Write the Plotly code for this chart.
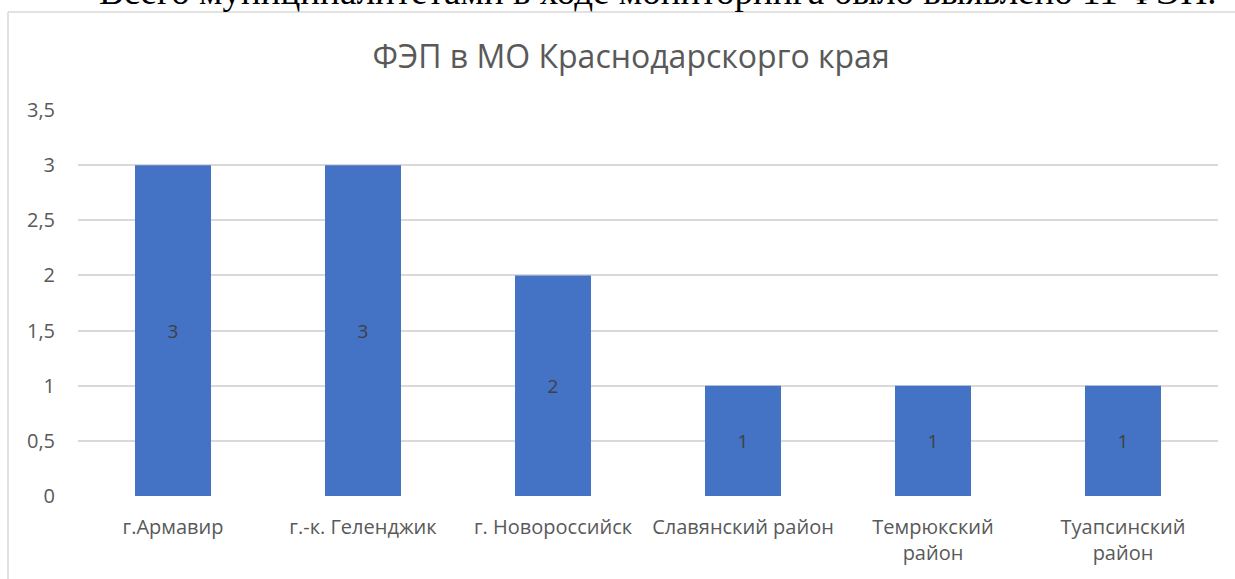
import plotly.graph_objects as go

categories = [
    "г.Армавир",
    "г.-к. Геленджик",
    "г. Новороссийск",
    "Славянский район",
    "Темрюкский<br>район",
    "Туапсинский<br>район",
]
values = [3, 3, 2, 1, 1, 1]
y_ticks = [0, 0.5, 1, 1.5, 2, 2.5, 3, 3.5]
y_tick_labels = ["0", "0,5", "1", "1,5", "2", "2,5", "3", "3,5"]

TITLE = "ФЭП в МО Краснодарскорго края"
PAGE_TEXT = "Всего муниципалитетами в ходе мониторинга было выявлено 11 ФЭП."

BAR_BLUE = "#4472C4"
TEXT_GRAY = "#595959"
GRID = "#d9d9d9"
FONT = "Open Sans"

fig = go.Figure(
    go.Bar(
        x=categories, y=values,
        marker=dict(color=BAR_BLUE, line=dict(width=0)),
        text=[str(v) for v in values],
        textposition="inside", insidetextanchor="middle",
        textfont=dict(family=FONT, size=19, color="#404040"),
        width=0.4, showlegend=False,
    )
)

# chart frame (top + left edge, the rest falls outside the page)
fig.add_shape(
    type="line", xref="paper", yref="paper",
    x0=-0.0614, x1=1.1, y0=1.2539, y1=1.2539,
    line=dict(color=GRID, width=1.5),
)
fig.add_shape(
    type="line", xref="paper", yref="paper",
    x0=-0.0614, x1=-0.0614, y0=-0.3, y1=1.2539,
    line=dict(color=GRID, width=1.5),
)

# document text above the chart, cut off by the page edge
fig.add_annotation(
    text=PAGE_TEXT, xref="paper", yref="paper",
    x=0.509, y=1.249, xanchor="center", yanchor="bottom",
    showarrow=False,
    font=dict(family="Liberation Serif", size=37, color="#000000"),
)

fig.update_layout(
    width=1235, height=579,
    margin=dict(l=78, r=17, t=110, b=83),
    title=dict(
        text=TITLE, x=0.511, xanchor="center", y=0.9016, yanchor="middle",
        font=dict(family=FONT, size=32, color=TEXT_GRAY),
    ),
    paper_bgcolor="white", plot_bgcolor="white",
    bargap=0.6,
    font=dict(family=FONT, color=TEXT_GRAY),
)
fig.update_xaxes(
    showgrid=False, zeroline=False, showline=False, ticks="",
    ticklabelstandoff=17,
    tickfont=dict(family=FONT, size=20, color=TEXT_GRAY),
)
fig.update_yaxes(
    range=[0, 3.5], tickvals=y_ticks, ticktext=y_tick_labels,
    showgrid=True, gridcolor=GRID, gridwidth=1.5, zeroline=False,
    ticks="", ticklen=0, ticklabelstandoff=22,
    tickfont=dict(family=FONT, size=20, color=TEXT_GRAY),
)

fig.write_html(
    "out.html",
    config={"displayModeBar": False},
    post_script="document.body.style.margin='0';document.body.style.overflow='hidden';",
)
